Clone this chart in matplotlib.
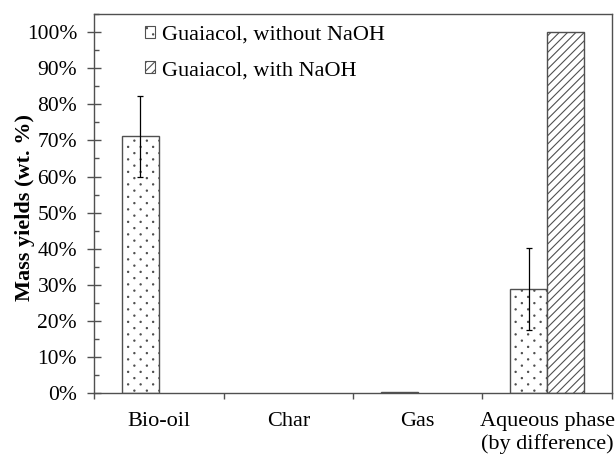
import numpy as np
import matplotlib
matplotlib.use('Agg')
import matplotlib.pyplot as plt
import matplotlib.hatch as mhatch
from matplotlib.path import Path
from matplotlib.patches import Patch
from matplotlib.ticker import MultipleLocator, FixedLocator, PercentFormatter

plt.rcParams['font.family'] = ['Liberation Serif', 'DejaVu Serif']
plt.rcParams['hatch.linewidth'] = 0.8


# sparse staggered dots (checkerboard), like the stippled fill in the original
class SparseDots(mhatch.HatchPatternBase):
    size = 0.05

    def __init__(self, hatch, density):
        n = hatch.count('.') * 8
        self.n = n
        circle = Path.unit_circle()
        self.shape_vertices = circle.vertices * self.size / n
        self.shape_codes = circle.codes
        self.centers = [((c + 0.25 + 0.5 * (r % 2)) / n, (r + 0.5) / (2 * n))
                        for r in range(2 * n) for c in range(n)] if n else []
        self.num_vertices = len(self.centers) * len(circle.vertices)

    def set_vertices_and_codes(self, vertices, codes):
        k = len(self.shape_vertices)
        for i, (cx, cy) in enumerate(self.centers):
            vertices[i * k:(i + 1) * k] = self.shape_vertices + (cx, cy)
            codes[i * k:(i + 1) * k] = self.shape_codes


mhatch._hatch_types = [SparseDots if h is mhatch.SmallFilledCircles else h
                       for h in mhatch._hatch_types]

categories = ['Bio-oil', 'Char', 'Gas', 'Aqueous phase\n(by difference)']
without_naoh = [71.1, 0.0, 0.2, 28.9]
without_err = [11.3, 0.0, 0.0, 11.3]
with_naoh = [0.0, 0.0, 0.0, 100.0]
labels = ['Guaiacol, without NaOH', 'Guaiacol, with NaOH']

edge = '#505050'
x = np.arange(len(categories)) + 0.5
w = 0.285

fig = plt.figure(figsize=(6.15, 4.55), dpi=100)
ax = fig.add_axes([0.153, 0.136, 0.842, 0.833])

b1 = ax.bar(x - w / 2, without_naoh, w, color='white', edgecolor=edge,
            linewidth=1.0, hatch='.')
b2 = ax.bar(x + w / 2, with_naoh, w, color='white', edgecolor=edge,
            linewidth=1.0, hatch='////')
for bars, vals in [(b1, without_naoh), (b2, with_naoh)]:
    for rect, v in zip(bars, vals):
        if v == 0:
            rect.set_visible(False)

idx = [i for i, e in enumerate(without_err) if e > 0]
ax.errorbar(x[idx] - w / 2, np.array(without_naoh)[idx], yerr=np.array(without_err)[idx],
            fmt='none', ecolor='black', elinewidth=0.9, capsize=2.2, capthick=0.9)

ax.set_xlim(0, len(categories))
ax.set_ylim(0, 105)
ax.yaxis.set_major_locator(MultipleLocator(10))
ax.yaxis.set_minor_locator(MultipleLocator(5))
ax.yaxis.set_major_formatter(PercentFormatter(decimals=0))
ax.set_xticks(x)
ax.set_xticklabels(categories)
ax.xaxis.set_minor_locator(FixedLocator(np.arange(len(categories) + 1)))
ax.tick_params(axis='x', which='major', length=0, labelsize=16, pad=13.5)
ax.tick_params(axis='x', which='minor', length=4.5, color=edge, width=1.0)
ax.tick_params(axis='y', which='major', direction='inout', length=9.5, color=edge,
               width=1.0, labelsize=15.5, pad=7.5)
ax.tick_params(axis='y', which='minor', direction='in', length=3.6, color=edge, width=1.0)
for s in ax.spines.values():
    s.set_color(edge)
    s.set_linewidth(1.0)

ax.set_ylabel('Mass yields (wt. %)', fontsize=16, fontweight='bold')
ax.yaxis.set_label_coords(-0.115, 0.49)

handles = [Patch(facecolor='white', edgecolor=edge, hatch='.', linewidth=0.8),
           Patch(facecolor='white', edgecolor=edge, hatch='////', linewidth=0.8)]
ax.legend(handles, labels, loc='upper left', bbox_to_anchor=(0.073, 1.005), frameon=False,
          fontsize=16, handlelength=0.45, handleheight=0.45, handletextpad=0.3,
          labelspacing=0.75, borderaxespad=0.2)

fig.savefig('out.png', dpi=100)
